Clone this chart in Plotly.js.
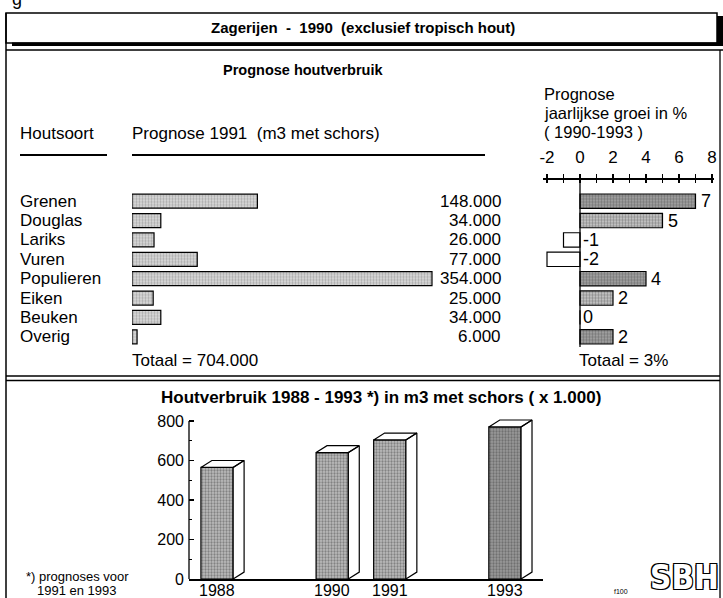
<!DOCTYPE html>
<html><head><meta charset="utf-8">
<script src="https://cdn.plot.ly/plotly-3.0.1.min.js"></script>
<style>html,body{margin:0;padding:0;background:#fff}#chart{width:723px;height:598px}</style>
</head><body><div id="chart"></div>
<script>
// ---- data ----
const species = ['Grenen','Douglas','Lariks','Vuren','Populieren','Eiken','Beuken','Overig'];
const volume1991 = [148000, 34000, 26000, 77000, 354000, 25000, 34000, 6000];
const growthPct = [7, 5, -1, -2, 4, 2, 0, 2];
const growthTickVals = [-2,-1,0,1,2,3,4,5,6,7,8];
const growthTickText = ['-2','','0','','2','','4','','6','','8'];
const totalGrowthText = 'Totaal = 3%';
const years = [1988, 1990, 1991, 1993];
const usage = [565, 640, 704, 770];
const usageTicks = [0, 200, 400, 600, 800];

// ---- helpers ----
const W = 723, H = 598;
const px = x => x / W;
const py = y => 1 - y / H;
const FONT = 'Liberation Sans, Arial, Helvetica, sans-serif';
const fmt = v => Math.round(v).toString().replace(/\B(?=(\d{3})+(?!\d))/g, '.');
const NB = '\u00a0';

// ---- traces ----
const traces = [];
traces.push({
  type: 'bar', orientation: 'h', x: volume1991, y: species, xaxis: 'x', yaxis: 'y',
  width: 0.72, hoverinfo: 'none',
  marker: {color: '#dcdcdc', line: {color: '#000', width: 1.2},
    pattern: {shape: '.', size: 3, solidity: 0.45, fgcolor: '#777', fillmode: 'overlay'}}
});
const darkSpecies = ['Grenen', 'Populieren', 'Overig'];
traces.push({
  type: 'bar', orientation: 'h', x: growthPct, y: species, xaxis: 'x2', yaxis: 'y2',
  width: 0.74, hoverinfo: 'none',
  marker: {
    color: growthPct.map((v, i) => v < 0 ? '#ffffff' : (darkSpecies.includes(species[i]) ? '#a8a8a8' : '#cfcfcf')),
    line: {color: '#000', width: 1.2},
    pattern: {shape: growthPct.map(v => v < 0 ? '' : '.'), size: 3, solidity: 0.5,
      fgcolor: growthPct.map((v, i) => darkSpecies.includes(species[i]) ? '#444' : '#777'), fillmode: 'overlay'}
  }
});
// helper axis for lower half of the '+' ticks
traces.push({type: 'scatter', x: [], y: [], xaxis: 'x4', yaxis: 'y2', hoverinfo: 'none', showlegend: false});

const barW = 0.56, dx = 0.19, dy = 35;
traces.push({
  type: 'bar', x: years, y: usage, xaxis: 'x3', yaxis: 'y3', width: barW, hoverinfo: 'none',
  marker: {color: years.map(y => y === 1993 ? '#9a9a9a' : '#bdbdbd'), line: {color: '#000', width: 1.2},
    pattern: {shape: '.', size: 3, solidity: 0.45, fgcolor: years.map(y => y === 1993 ? '#333' : '#555'), fillmode: 'overlay'}}
});
// 3D side and top faces derived from data
const fx = [], fy = [];
years.forEach((yr, i) => {
  const l = yr - barW / 2, r = yr + barW / 2, v = usage[i];
  fx.push(r, r + dx, r + dx, r, r, null); fy.push(0, dy, v + dy, v, 0, null);
  fx.push(l, l + dx, r + dx, r, l, null); fy.push(v, v + dy, v + dy, v, v, null);
});
traces.push({type: 'scatter', mode: 'lines', x: fx, y: fy, xaxis: 'x3', yaxis: 'y3',
  fill: 'toself', fillcolor: '#ffffff', line: {color: '#000', width: 1.2}, hoverinfo: 'none', connectgaps: false});

// ---- layout ----
const rowsTop = 191.5, rowsBot = 346.5;
const gx0 = 543, gx1 = 714, g0 = 580, gScale = 16.5, gAxisY = 178;
const gRange = [(gx0 - g0) / gScale, (gx1 - g0) / gScale];
const usageTop = 830, yPxPerUnit = 0.1975;

const shapes = [];
const L = (x0, y0, x1, y1, w) => shapes.push({type: 'line', xref: 'paper', yref: 'paper',
  x0: px(x0), y0: py(y0), x1: px(x1), y1: py(y1), line: {color: '#000', width: w || 1.2}});
shapes.push({type: 'rect', xref: 'paper', yref: 'paper', x0: px(6), x1: px(717), y0: py(43), y1: py(13),
  line: {color: '#000', width: 1.5}});
shapes.push({type: 'rect', xref: 'paper', yref: 'paper', x0: px(717), x1: px(723), y0: py(46), y1: py(16),
  fillcolor: '#000', line: {width: 0}});
shapes.push({type: 'rect', xref: 'paper', yref: 'paper', x0: px(12), x1: px(723), y0: py(46), y1: py(42.5),
  fillcolor: '#000', line: {width: 0}});
L(6, 50, 723, 50, 1.3);
L(6, 13, 6, 598, 1.5);
L(720, 50, 720, 598, 1.3);
L(6, 376, 720, 376, 1.3);
L(6, 380.5, 720, 380.5, 1.3);
L(20, 155, 107, 155, 2);
L(132, 155, 485, 155, 2);
shapes.push({type: 'line', xref: 'x2', yref: 'paper', x0: 0, x1: 0, y0: py(gAxisY - 4), y1: py(347), line: {color: '#000', width: 1.3}});
shapes.push({type: 'line', xref: 'x3 domain', yref: 'y3', x0: 0, x1: 0, y0: 0, y1: usageTicks[usageTicks.length - 1], line: {color: '#000', width: 1.3}});

const ann = [];
const T = (text, x, y, o) => ann.push(Object.assign({text, xref: 'paper', yref: 'paper', x: px(x), y: py(y),
  xanchor: 'left', yanchor: 'middle', showarrow: false, font: {family: FONT, size: 17, color: '#000'}}, o || {}));
T('g', 10, -1, {font: {family: FONT, size: 18, color: '#000'}});
T('Zagerijen' + NB + ' - ' + NB + '1990' + NB + ' (exclusief tropisch hout)', 363, 28,
  {xanchor: 'center', font: {family: FONT, size: 15, color: '#000', weight: 'bold'}});
T('Prognose houtverbruik', 303, 70, {xanchor: 'center', font: {family: FONT, size: 14.5, color: '#000', weight: 'bold'}});
T('Houtsoort', 18, 134);
T('Prognose 1991' + NB + NB + '(m3 met schors)', 130, 134);
T('Prognose', 542, 94, {font: {family: FONT, size: 16.5, color: '#000'}});
T('jaarlijkse groei in %', 542, 113, {font: {family: FONT, size: 16.5, color: '#000'}});
T('(' + NB + '1990-1993' + NB + ')', 542, 132, {font: {family: FONT, size: 16.5, color: '#000'}});
species.forEach((s, i) => {
  ann.push({text: s, xref: 'paper', yref: 'y', x: px(18), y: s, xanchor: 'left', yanchor: 'middle',
    showarrow: false, font: {family: FONT, size: 17, color: '#000'}});
  ann.push({text: fmt(volume1991[i]), xref: 'paper', yref: 'y', x: px(503), y: s, xanchor: 'right', yanchor: 'middle',
    showarrow: false, font: {family: FONT, size: 17, color: '#000'}});
  const g = growthPct[i];
  ann.push({text: String(g), xref: 'x2', yref: 'y2', x: Math.max(g, 0), y: s, xanchor: 'left', yanchor: 'middle',
    xshift: g > 0 ? 3 : 1, showarrow: false, font: {family: FONT, size: 18, color: '#000'}});
});
T('Totaal = ' + fmt(volume1991.reduce((a, b) => a + b, 0)), 130, 360);
T(totalGrowthText, 577, 360);
T('Houtverbruik 1988 - 1993 *) in m3 met schors ( x 1.000)', 381, 397,
  {xanchor: 'center', font: {family: FONT, size: 17, color: '#000', weight: 'bold'}});
years.forEach(yr => ann.push({text: String(yr), xref: 'x3', yref: 'paper', x: yr, y: py(590), xanchor: 'center', yanchor: 'middle',
  showarrow: false, font: {family: FONT, size: 16, color: '#000'}}));
T('*) prognoses voor', 77, 576, {xanchor: 'center', font: {family: FONT, size: 13, color: '#000'}});
T('1991 en 1993', 77, 590, {xanchor: 'center', font: {family: FONT, size: 13, color: '#000'}});
T('f100', 621, 591, {xanchor: 'center', font: {family: FONT, size: 7, color: '#000'}});
T('SBH', 684, 577, {xanchor: 'center', font: {family: 'DejaVu Sans Condensed, Liberation Sans', size: 33, color: '#fff', weight: 'bold',
  shadow: '-1.2px -1.2px 0 #000, 1.2px -1.2px 0 #000, -1.2px 1.2px 0 #000, 1.2px 1.2px 0 #000'}});

const layout = {
  width: W, height: H, margin: {l: 0, r: 0, t: 0, b: 0}, paper_bgcolor: '#fff', plot_bgcolor: 'rgba(0,0,0,0)',
  showlegend: false, bargap: 0, font: {family: FONT, color: '#000'},
  xaxis: {domain: [px(132), px(503)], range: [0, 354000 * 371 / 300], visible: false, fixedrange: true},
  yaxis: {domain: [py(rowsBot), py(rowsTop)], type: 'category', range: [7.5, -0.5], visible: false, fixedrange: true},
  xaxis2: {domain: [px(gx0), px(gx1)], range: gRange, side: 'top', anchor: 'free', position: py(gAxisY),
    showline: true, linecolor: '#000', linewidth: 1.5, ticks: 'outside', ticklen: 4, tickwidth: 1.5, tickcolor: '#000',
    tickmode: 'array', tickvals: growthTickVals, ticktext: growthTickText, tickfont: {size: 17, family: FONT, color: '#000'},
    ticklabelstandoff: 4, showgrid: false, zeroline: false, fixedrange: true},
  xaxis4: {domain: [px(gx0), px(gx1)], range: gRange, side: 'bottom', anchor: 'free', position: py(gAxisY),
    showline: false, ticks: 'outside', ticklen: 4, tickwidth: 1.5, tickcolor: '#000',
    tickmode: 'array', tickvals: growthTickVals, showticklabels: false, showgrid: false, zeroline: false, fixedrange: true},
  yaxis2: {domain: [py(rowsBot), py(rowsTop)], type: 'category', range: [7.5, -0.5], visible: false, anchor: 'x2', fixedrange: true},
  xaxis3: {domain: [px(189), px(543)], range: [1988 - 28 / 57.5, 1993 + 38 / 57.5], anchor: 'y3',
    showline: true, linecolor: '#000', linewidth: 1.5, ticks: '', showticklabels: false,
    showgrid: false, zeroline: false, fixedrange: true},
  yaxis3: {domain: [py(579), py(579 - usageTop * yPxPerUnit)], range: [0, usageTop], anchor: 'x3',
    showline: false, ticks: 'inside', ticklen: 5, tickwidth: 1.2, tickcolor: '#000', tickmode: 'array', tickvals: usageTicks,
    tickfont: {size: 16, family: FONT, color: '#000'}, ticklabelstandoff: 4,
    minor: {ticks: 'inside', ticklen: 3, tickwidth: 1, tickcolor: '#000', tickmode: 'array',
      tickvals: usageTicks.slice(0, -1).map(v => v + 100), showgrid: false},
    showgrid: false, zeroline: false, fixedrange: true},
  shapes, annotations: ann
};
Plotly.newPlot('chart', traces, layout, {staticPlot: true, displayModeBar: false});
</script></body></html>
